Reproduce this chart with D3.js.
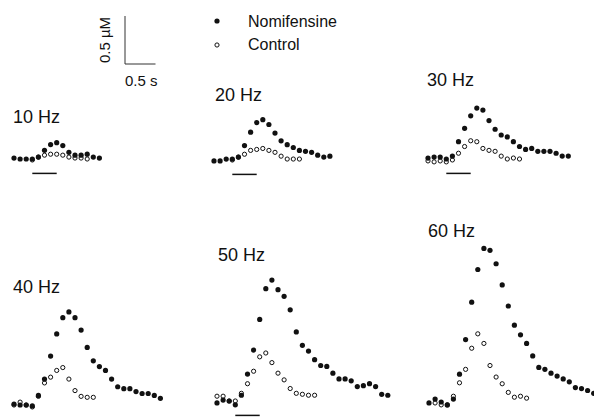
<!DOCTYPE html>
<html>
<head>
<meta charset="utf-8">
<script src="https://cdn.jsdelivr.net/npm/d3@7"></script>
<style>
  body { margin: 0; background: #fff; }
  text { font-family: "Liberation Sans", Arial, sans-serif; fill: #111; }
</style>
</head>
<body>
<svg id="chart"></svg>
<script>
const W = 594, H = 417;

// time of each sample (s)
const times = [0, 0.1, 0.2, 0.3, 0.4, 0.5, 0.6, 0.7, 0.8, 0.9, 1.0, 1.1, 1.2, 1.3, 1.4,
  1.5, 1.6, 1.7, 1.8, 1.9, 2.0, 2.1, 2.2, 2.3, 2.4, 2.5, 2.6, 2.7, 2.8];
// stimulation period (s)
const stimulus = [0.3, 0.7];

const labels = ["10 Hz", "20 Hz", "30 Hz", "40 Hz", "50 Hz", "60 Hz"];
const seriesNames = ["Nomifensine", "Control"];

// dopamine (uM above baseline)
const nomi10 = [0.01, 0, 0, 0, 0.02, 0.09, 0.15, 0.17, 0.14, 0.07, 0.04, 0.04, 0.05, 0.02, 0.01];
const ctrl10 = [null, null, null, -0.01, 0.02, 0.04, 0.05, 0.05, 0.04, 0.02, 0.01, 0.01, 0.00];
const nomi20 = [-0.01, -0.01, 0.01, 0.01, 0.03, 0.15, 0.29, 0.39, 0.42, 0.37, 0.28, 0.20, 0.16, 0.13,
  0.10, 0.09, 0.08, 0.05, 0.03, 0.04];
const ctrl20 = [null, null, null, 0.00, 0.03, 0.06, 0.10, 0.11, 0.12, 0.10, 0.08, 0.04, 0.01, 0.01, 0.01];
const nomi30 = [0.01, 0.02, 0.02, 0.00, 0.03, 0.18, 0.32, 0.45, 0.53, 0.51, 0.40, 0.31, 0.25, 0.23,
  0.18, 0.13, 0.10, 0.11, 0.08, 0.08, 0.08, 0.06, 0.03, 0.03];
const ctrl30 = [-0.02, -0.03, -0.02, -0.03, -0.01, 0.06, 0.13, 0.19, 0.18, 0.11, 0.09, 0.08, 0.03, 0.00, 0.01, 0.00];
const nomi40 = [0.01, 0.00, 0.00, -0.01, 0.10, 0.27, 0.51, 0.74, 0.91, 0.97, 0.91, 0.78, 0.60, 0.46,
  0.40, 0.36, 0.27, 0.19, 0.17, 0.17, 0.14, 0.12, 0.12, 0.10, 0.07];
const ctrl40 = [0.00, 0.03, 0.00, -0.02, 0.09, 0.23, 0.29, 0.36, 0.39, 0.27, 0.15, 0.09, 0.08, 0.08];
const nomi50 = [-0.02, 0.01, 0.00, -0.04, 0.06, 0.28, 0.53, 0.85, 1.17, 1.26, 1.16, 1.09, 0.95, 0.72,
  0.58, 0.52, 0.43, 0.37, 0.36, 0.29, 0.23, 0.23, 0.21, 0.15, 0.16, 0.18, 0.15, 0.07, 0.06];
const ctrl50 = [0.05, 0.05, 0.00, 0.00, 0.08, 0.18, 0.31, 0.46, 0.50, 0.40, 0.29, 0.22, 0.13, 0.08, 0.07, 0.06, 0.06];
const nomi60 = [-0.01, 0.03, 0.00, -0.03, 0.03, 0.29, 0.65, 1.04, 1.38, 1.60, 1.58, 1.44, 1.22, 1.00,
  0.80, 0.70, 0.61, 0.48, 0.36, 0.34, 0.30, 0.27, 0.24, 0.21, 0.15, 0.14, 0.12, 0.09];
const ctrl60 = [null, -0.01, -0.03, -0.03, 0.06, 0.20, 0.34, 0.56, 0.71, 0.61, 0.38, 0.26, 0.19, 0.10, 0.05, 0.06, 0.04];

const pxPerSec = 61;
const pxPerUM = 96;

// where each small panel sits (40 and 60 Hz bars fall off the page in the original)
const panels = [
  { label: labels[0], nomi: nomi10, ctrl: ctrl10, x0: 14, base: 159, lx: 13, ly: 123, bar: true },
  { label: labels[1], nomi: nomi20, ctrl: ctrl20, x0: 214, base: 160, lx: 215, ly: 101, bar: true },
  { label: labels[2], nomi: nomi30, ctrl: ctrl30, x0: 428, base: 159, lx: 427, ly: 86, bar: true },
  { label: labels[3], nomi: nomi40, ctrl: ctrl40, x0: 14, base: 405, lx: 13, ly: 293, bar: false },
  { label: labels[4], nomi: nomi50, ctrl: ctrl50, x0: 217, base: 401, lx: 218, ly: 261, bar: true },
  { label: labels[5], nomi: nomi60, ctrl: ctrl60, x0: 429, base: 402, lx: 428, ly: 237, bar: false }
];

const svg = d3.select("#chart").attr("width", W).attr("height", H);

function toPoints(vals) {
  return vals.map((v, i) => ({ t: times[i], v: v })).filter(d => d.v !== null);
}

panels.forEach(p => {
  const x = d3.scaleLinear().domain([0, 1]).range([p.x0, p.x0 + pxPerSec]);
  const y = d3.scaleLinear().domain([0, 1]).range([p.base, p.base - pxPerUM]);
  const g = svg.append("g");

  g.append("text")
    .attr("x", p.lx).attr("y", p.ly)
    .attr("font-size", 18)
    .text(p.label);

  // stimulus bar
  if (p.bar) {
    g.append("line")
      .attr("x1", x(stimulus[0])).attr("x2", x(stimulus[1]))
      .attr("y1", y(-0.15)).attr("y2", y(-0.15))
      .attr("stroke", "#111").attr("stroke-width", 1.5);
  }

  g.selectAll(".ctrl")
    .data(toPoints(p.ctrl))
    .join("circle")
    .attr("class", "ctrl")
    .attr("cx", d => x(d.t)).attr("cy", d => y(d.v))
    .attr("r", 2.1)
    .attr("fill", "#fff").attr("stroke", "#111").attr("stroke-width", 1);

  g.selectAll(".nomi")
    .data(toPoints(p.nomi))
    .join("circle")
    .attr("class", "nomi")
    .attr("cx", d => x(d.t)).attr("cy", d => y(d.v))
    .attr("r", 2.6)
    .attr("fill", "#111");
});

// scale bars
const sx = d3.scaleLinear().domain([0, 1]).range([125, 125 + pxPerSec]);
const sy = d3.scaleLinear().domain([0, 1]).range([64, 64 - pxPerUM]);
svg.append("path")
  .attr("d", `M${sx(0)},${sy(0.5)}V${sy(0)}H${sx(0.5)}`)
  .attr("fill", "none").attr("stroke", "#333").attr("stroke-width", 1);
svg.append("text")
  .attr("transform", `translate(110,${sy(0.25)}) rotate(-90)`)
  .attr("text-anchor", "middle")
  .attr("font-size", 15)
  .text("0.5 \u00b5M");
svg.append("text")
  .attr("x", 125).attr("y", 86)
  .attr("font-size", 15)
  .text("0.5 s");

// legend
const legend = svg.append("g");
legend.append("circle").attr("cx", 217).attr("cy", 21).attr("r", 2.6).attr("fill", "#111");
legend.append("circle").attr("cx", 217).attr("cy", 45).attr("r", 2.1)
  .attr("fill", "#fff").attr("stroke", "#111");
legend.append("text").attr("x", 248).attr("y", 27).attr("font-size", 16).text(seriesNames[0]);
legend.append("text").attr("x", 248).attr("y", 50).attr("font-size", 16).text(seriesNames[1]);
</script>
</body>
</html>
